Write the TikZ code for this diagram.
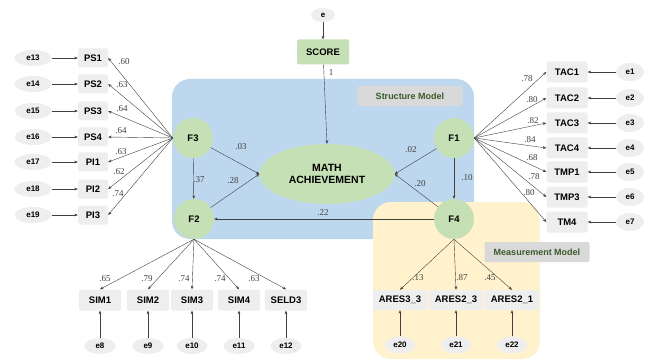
\documentclass[tikz,border=0pt]{standalone}
\usepackage{fontspec}
\setmainfont{Liberation Serif}
\setsansfont{Liberation Sans}
\usetikzlibrary{arrows.meta, shapes.geometric}
\definecolor{blueback}{HTML}{BDD7EE}
\definecolor{yellowback}{HTML}{FFF2CC}
\definecolor{latentgreen}{HTML}{C5E0B4}
\definecolor{boxgray}{HTML}{EEEEEE}
\definecolor{taggray}{HTML}{D9D9D9}
\definecolor{tagtext}{HTML}{3A5A2A}
\tikzstyle{obs} = [rectangle, rounded corners=1.5pt, fill=boxgray, minimum width=30pt, minimum height=19pt, inner sep=1pt, font=\sffamily\bfseries\fontsize{9.5}{11}\selectfont]
\tikzstyle{err} = [ellipse, fill=boxgray, minimum width=37pt, minimum height=16pt, inner sep=0pt, font=\sffamily\bfseries\fontsize{8}{9}\selectfont]
\tikzstyle{latent} = [circle, fill=latentgreen, minimum size=40pt, inner sep=0pt, font=\sffamily\bfseries\fontsize{9.5}{11}\selectfont]
\tikzstyle{coef} = [inner sep=0.5pt, text=black!75, font=\fontsize{9}{10}\selectfont]
\tikzstyle{tag} = [rectangle, rounded corners=2pt, fill=taggray, text=tagtext, minimum width=105pt, minimum height=20pt, font=\sffamily\bfseries\fontsize{9}{10}\selectfont]
\tikzstyle{l} = [->, thin, black!75]

\begin{document}
\begin{tikzpicture}[x=1pt, y=-1pt, >={Stealth[length=3.5pt, width=2.8pt]}]
    \useasboundingbox (0,0) rectangle (649,361);

    % model backgrounds
    \fill[blueback, rounded corners=18pt] (172,79) rectangle (474,239);
    \fill[yellowback, rounded corners=18pt] (373,202) rectangle (540,359);
    \node[tag] (stag) at (410,96) {Structure Model};
    \node[tag] (mtag) at (537,252) {Measurement Model};

    % structure model
    \node[err, minimum width=24pt, minimum height=14pt] (e) at (323,15) {e};
    \node[obs, fill=latentgreen, minimum width=52pt, minimum height=25pt] (score) at (323,52) {SCORE};
    \node[ellipse, fill=latentgreen, minimum width=135pt, minimum height=60pt, align=center, inner sep=0pt,
          font=\sffamily\bfseries\fontsize{10.5}{12.5}\selectfont] (ach) at (327,174) {MATH\\ACHIEVEMENT};
    \node[latent] (F3) at (193,138) {F3};
    \node[latent] (F2) at (194,219) {F2};
    \node[latent] (F1) at (454,138) {F1};
    \node[latent] (F4) at (454,219) {F4};

    \draw[l] (e) -- (score);
    \draw[l] (score) -- (ach.north); \node[coef] at (331,73) {1};
    \draw[l] (F3) -- (ach.west); \node[coef] at (241,147) {.03};
    \draw[l] (F2) -- (ach.west); \node[coef] at (233,181) {.28};
    \draw[l] (F1) -- (ach.east); \node[coef] at (411,150) {.02};
    \draw[l] (F4) -- (ach.east); \node[coef] at (420,184) {.20};
    \draw[l] (F3) -- (F2); \node[coef] at (199,180) {.37};
    \draw[l] (F1) -- (F4); \node[coef] at (467,178) {.10};
    \draw[l] (F4) -- (F2); \node[coef] at (323,213) {.22};

    % F3 indicators
    \foreach \n/\i/\y/\c/\lx/\ly in {PS1/13/58/.60/124/62, PS2/14/84/.63/122/85, PS3/15/111/.64/122/109,
        PS4/16/137/.64/121/131, PI1/17/162/.63/121/152, PI2/18/189/.62/119/172, PI3/19/215/.74/118/194}
    {
        \node[obs] (\n) at (93,\y) {\n};
        \node[err] (e\i) at (33,\y) {e\i};
        \draw[l] (e\i) -- (\n);
        \draw[l] (F3.west) -- (\n.east);
        \node[coef] at (\lx,\ly) {\c};
    }

    % F1 indicators
    \foreach \n/\i/\y/\c/\lx/\ly in {TAC1/1/72/.78/527/79, TAC2/2/98/.80/532/100, TAC3/3/123/.82/533/121,
        TAC4/4/148/.84/530/140, TMP1/5/172/.68/532/158, TMP3/6/197/.78/534/177, TM4/7/222/.80/529/193}
    {
        \node[obs, minimum width=41pt, minimum height=21pt] (\n) at (567,\y) {\n};
        \node[err, minimum width=28pt, minimum height=18pt] (e\i) at (630,\y) {e\i};
        \draw[l] (e\i) -- (\n);
        \draw[l] (F1.east) -- (\n.west);
        \node[coef] at (\lx,\ly) {\c};
    }

    % F2 indicators
    \foreach \n/\i/\x/\c/\lx in {SIM1/8/100/.65/105, SIM2/9/148/.79/147, SIM3/10/192/.74/184,
        SIM4/11/239/.74/220, SELD3/12/286/.63/254}
    {
        \node[obs, minimum width=42pt, minimum height=21pt] (\n) at (\x,300) {\n};
        \node[err, minimum width=31pt, minimum height=16pt] (e\i) at (\x,346) {e\i};
        \draw[l] (e\i) -- (\n);
        \draw[l] (F2.south) -- (\n.north);
        \node[coef] at (\lx,279) {\c};
    }

    % F4 indicators
    \foreach \n/\t/\i/\x/\c/\lx in {a1/{ARES3\_3}/20/400/.13/418, a2/{ARES2\_3}/21/456/.87/462,
        a3/{ARES2\_1}/22/512/.45/490}
    {
        \node[obs, minimum width=54pt, minimum height=20pt] (\n) at (\x,300) {\t};
        \node[err, minimum width=30pt, minimum height=17pt] (e\i) at (\x,345) {e\i};
        \draw[l] (e\i) -- (\n);
        \draw[l] (F4.south) -- (\n.north);
        \node[coef] at (\lx,278) {\c};
    }
\end{tikzpicture}
\end{document}
